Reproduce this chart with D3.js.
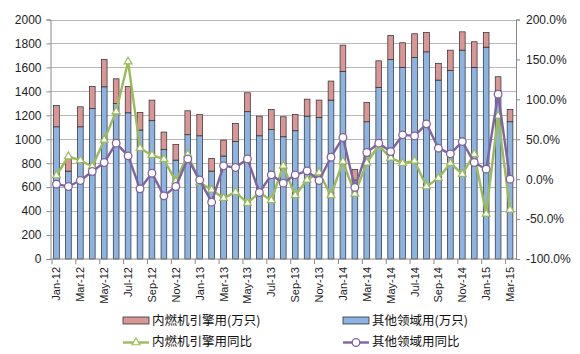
<!DOCTYPE html>
<html>
<head>
<meta charset="utf-8">
<script src="https://cdn.jsdelivr.net/npm/d3@7"></script>
<style>
  body { margin: 0; background: #fff; }
  svg { display: block; font-family: "Liberation Sans", Arial, sans-serif; }
  .cjk { font-family: "Noto Sans CJK SC", sans-serif; }
</style>
</head>
<body>
<div id="chart"></div>
<script>
const months = ["Jan-12","Feb-12","Mar-12","Apr-12","May-12","Jun-12","Jul-12","Aug-12","Sep-12","Oct-12","Nov-12","Dec-12",
  "Jan-13","Feb-13","Mar-13","Apr-13","May-13","Jun-13","Jul-13","Aug-13","Sep-13","Oct-13","Nov-13","Dec-13",
  "Jan-14","Feb-14","Mar-14","Apr-14","May-14","Jun-14","Jul-14","Aug-14","Sep-14","Oct-14","Nov-14","Dec-14",
  "Jan-15","Feb-15","Mar-15"];

// 其他领域用(万只)
const otherUse = [1104,734,1104,1257,1438,1299,1221,1077,1155,915,826,1038,
  1029,734,860,982,1230,1029,1082,1021,1071,1193,1182,1327,
  1566,659,1146,1433,1666,1600,1683,1730,1494,1575,1744,1600,
  1769,1405,1146];
// 内燃机引擎用(万只)
const engineUse = [178,120,167,184,228,206,220,147,172,145,131,200,
  178,106,133,150,158,164,167,167,136,142,145,159,
  220,89,162,222,201,206,198,162,139,169,153,214,
  123,117,103];
// 内燃机引擎用同比 (%)
const engineYoY = [4.6,28.4,23.4,15.9,49.2,84.7,147.3,38.8,30,25,-2.9,31,
  -4.2,-13.4,-23.8,-16.3,-30,-16.7,-26.7,16.7,-20.4,-0.8,8.3,-20.4,
  22.1,-18.4,20.5,42.1,26.7,20,22.9,-9.2,1.3,20,6.3,31.3,
  -43.4,79.3,-38.4];
// 其他领域用同比 (%)
const otherYoY = [-6.3,-9.2,-1.7,9.6,20.9,45.1,29.2,-12.1,7.5,-20.9,-9.2,25.4,
  -1,-28.8,16.7,14.6,25.4,-16.7,5.4,-5,5.4,10.4,-1.7,27.5,
  52.2,-10.4,33.4,45.1,34.6,55.5,54.2,69.3,38.8,31.7,47.1,20.9,
  12.5,106.4,0];

const leftTicks = d3.range(0, 2001, 200);
const rightTicks = d3.range(-100, 201, 50);

const width = 580, height = 354;
const margin = { top: 19.5, right: 64, bottom: 95, left: 50.5 };

const svg = d3.select("#chart").append("svg")
  .attr("width", width)
  .attr("height", height);

const x = d3.scaleBand()
  .domain(months)
  .range([margin.left, width - margin.right])
  .paddingInner(0.52)
  .paddingOuter(0.26);

const band = d3.scaleBand().domain(months).range([margin.left, width - margin.right]);

const yL = d3.scaleLinear().domain([0, 2000]).range([height - margin.bottom, margin.top]);
const yR = d3.scaleLinear().domain([-100, 200]).range([height - margin.bottom, margin.top]);

// gridlines
svg.append("g")
  .selectAll("line")
  .data(leftTicks.slice(1))
  .join("line")
  .attr("x1", margin.left).attr("x2", width - margin.right)
  .attr("y1", d => Math.round(yL(d)) + 0.5).attr("y2", d => Math.round(yL(d)) + 0.5)
  .attr("stroke", "#b8b8b8")
  .attr("stroke-width", 1);

// stacked bars
const bars = svg.append("g");
bars.selectAll(".other")
  .data(months)
  .join("rect")
  .attr("class", "other")
  .attr("x", d => x(d))
  .attr("width", x.bandwidth())
  .attr("y", (d, i) => yL(otherUse[i]))
  .attr("height", (d, i) => yL(0) - yL(otherUse[i]))
  .attr("fill", "#8db3e2")
  .attr("stroke", "#2b2b2b")
  .attr("stroke-width", 0.7);

bars.selectAll(".engine")
  .data(months)
  .join("rect")
  .attr("class", "engine")
  .attr("x", d => x(d))
  .attr("width", x.bandwidth())
  .attr("y", (d, i) => yL(otherUse[i] + engineUse[i]))
  .attr("height", (d, i) => yL(otherUse[i]) - yL(otherUse[i] + engineUse[i]))
  .attr("fill", "#d99694")
  .attr("stroke", "#2b2b2b")
  .attr("stroke-width", 0.7);

// axes
const axisColor = "#888";
const gL = svg.append("g")
  .attr("transform", `translate(${margin.left},0)`)
  .call(d3.axisLeft(yL).tickValues(leftTicks).tickSize(4).tickPadding(5).tickFormat(d3.format("d")));
const gR = svg.append("g")
  .attr("transform", `translate(${width - margin.right},0)`)
  .call(d3.axisRight(yR).tickValues(rightTicks).tickSize(4).tickPadding(6)
    .tickFormat(d => d.toFixed(1) + "%"));
[gL, gR].forEach(g => {
  g.select(".domain").attr("stroke", axisColor);
  g.selectAll(".tick line").attr("stroke", axisColor);
  g.selectAll(".tick text").attr("fill", "#222").attr("font-size", 12)
    .attr("font-family", "'Liberation Sans', Arial, sans-serif");
});

const gB = svg.append("g").attr("transform", `translate(0,${yL(0)})`);
gB.append("line")
  .attr("x1", margin.left).attr("x2", width - margin.right)
  .attr("stroke", axisColor);
// tick marks between categories, every second boundary
gB.selectAll(".tk")
  .data(months.filter((d, i) => i % 2 === 0))
  .join("line")
  .attr("x1", d => band(d) + 1.5).attr("x2", d => band(d) + 1.5)
  .attr("y1", 0).attr("y2", 5)
  .attr("stroke", axisColor);
gB.selectAll(".lbl")
  .data(months.filter((d, i) => i % 2 === 0))
  .join("text")
  .attr("transform", d => `translate(${band(d) + band.bandwidth() / 2 + 4},8) rotate(-90)`)
  .attr("text-anchor", "end")
  .attr("font-size", 11)
  .attr("fill", "#222")
  .text(d => d);

// lines
const cx = d => band(d) + band.bandwidth() / 2;
function drawLine(values, color, marker) {
  const pts = months.map((m, i) => [cx(m), yR(values[i])]);
  svg.append("path")
    .attr("d", d3.line()(pts))
    .attr("fill", "none")
    .attr("stroke", color)
    .attr("stroke-width", 2.4)
    .attr("stroke-linejoin", "round");
  const g = svg.append("g");
  if (marker === "circle") {
    g.selectAll("circle").data(pts).join("circle")
      .attr("cx", d => d[0]).attr("cy", d => d[1]).attr("r", 3.8)
      .attr("fill", "#fff").attr("stroke", color).attr("stroke-width", 1.3);
  } else {
    const tri = d3.symbol().type(d3.symbolTriangle).size(26);
    g.selectAll("path").data(pts).join("path")
      .attr("d", tri)
      .attr("transform", d => `translate(${d[0]},${d[1]})`)
      .attr("fill", "#fff").attr("stroke", color).attr("stroke-width", 1.2);
  }
}
drawLine(engineYoY, "#9bbb59", "tri");
drawLine(otherYoY, "#8064a2", "circle");

// legend
const legend = svg.append("g").attr("class", "cjk").attr("font-size", 12.5).attr("fill", "#111");
const items = [
  { label: "内燃机引擎用(万只)", type: "rect", color: "#d99694", x: 123, y: 320.5 },
  { label: "其他领域用(万只)", type: "rect", color: "#8db3e2", x: 343, y: 320.5 },
  { label: "内燃机引擎用同比", type: "tri", color: "#9bbb59", x: 123, y: 341.5 },
  { label: "其他领域用同比", type: "circle", color: "#8064a2", x: 343, y: 341.5 }
];
items.forEach(it => {
  const g = legend.append("g").attr("transform", `translate(${it.x},${it.y})`);
  if (it.type === "rect") {
    g.append("rect").attr("x", 0).attr("y", -3.5).attr("width", 26).attr("height", 7)
      .attr("fill", it.color).attr("stroke", "#333").attr("stroke-width", 0.8);
  } else {
    g.append("line").attr("x1", 0).attr("x2", 26).attr("y1", 1).attr("y2", 1)
      .attr("stroke", it.color).attr("stroke-width", 2.4);
    if (it.type === "tri") {
      g.append("path").attr("d", d3.symbol().type(d3.symbolTriangle).size(26))
        .attr("transform", "translate(13,1)")
        .attr("fill", "#fff").attr("stroke", it.color).attr("stroke-width", 1.2);
    } else {
      g.append("circle").attr("cx", 13).attr("cy", 1).attr("r", 3.8)
        .attr("fill", "#fff").attr("stroke", it.color).attr("stroke-width", 1.3);
    }
  }
  g.append("text").attr("x", 29).attr("y", 4.5).text(it.label);
});
</script>
</body>
</html>
